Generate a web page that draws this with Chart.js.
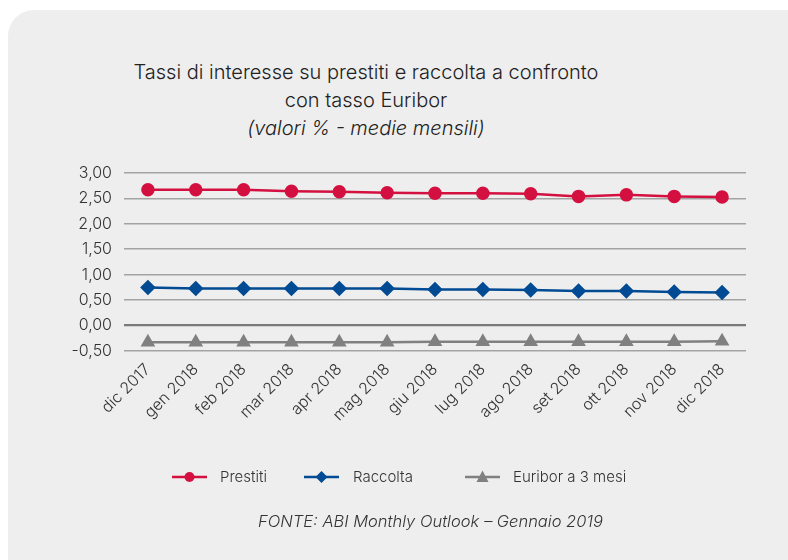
<!DOCTYPE html>
<html>
<head>
<meta charset="utf-8">
<script src="https://cdn.jsdelivr.net/npm/chart.js@4"></script>
<style>
  html, body { margin:0; padding:0; background:#ffffff; }
  body { width:788px; height:560px; position:relative; overflow:hidden; font-family: Inter, "Open Sans", sans-serif; color:#333; }
  #panel { position:absolute; left:8px; top:10px; width:820px; height:600px; border-radius:26px; background:#eeeeee; }
  #title { position:absolute; left:66px; width:600px; top:58px; text-align:center; font-size:20px; font-weight:300; line-height:28px; color:#222; }
  #title .sub { font-style:italic; }
  #wrap { position:absolute; left:0; top:0; width:788px; height:560px; }
  #legend { position:absolute; top:467px; left:0; width:788px; height:20px; font-size:15px; font-weight:300; color:#333; }
  .li { position:absolute; top:0; height:20px; line-height:20px; }
  .li svg { position:absolute; top:0; left:0; }
  .li span { position:absolute; white-space:nowrap; }
  #source { position:absolute; top:511px; left:258px; font-size:16.5px; font-weight:300; font-style:italic; color:#333; white-space:nowrap; }
</style>
</head>
<body>
<div id="panel"></div>
<div id="title">Tassi di interesse su prestiti e raccolta a confronto<br>con tasso Euribor<br><span class="sub">(valori % - medie mensili)</span></div>
<div id="wrap"><canvas id="c" width="788" height="560"></canvas></div>
<div id="legend"></div>
<div id="source">FONTE: ABI Monthly Outlook – Gennaio 2019</div>
<script>
const categories = ["dic 2017","gen 2018","feb 2018","mar 2018","apr 2018","mag 2018","giu 2018","lug 2018","ago 2018","set 2018","ott 2018","nov 2018","dic 2018"];
const prestiti = [2.67, 2.67, 2.67, 2.64, 2.63, 2.61, 2.60, 2.60, 2.59, 2.54, 2.57, 2.54, 2.53];
const raccolta = [0.75, 0.73, 0.73, 0.73, 0.73, 0.73, 0.71, 0.71, 0.70, 0.68, 0.68, 0.66, 0.65];
const euribor = [-0.33, -0.33, -0.33, -0.33, -0.33, -0.33, -0.32, -0.32, -0.32, -0.32, -0.32, -0.32, -0.31];
const yTicks = [-0.5, 0, 0.5, 1, 1.5, 2, 2.5, 3];
const seriesNames = ["Prestiti", "Raccolta", "Euribor a 3 mesi"];
const colors = ["#d3103f", "#004b93", "#808080"];
const markers = ["circle", "rectRot", "triangle"];

const fmt = v => v.toFixed(2).replace('.', ',');

const chart = new Chart(document.getElementById('c'), {
  type: 'line',
  data: {
    labels: categories,
    datasets: [prestiti, raccolta, euribor].map((d, i) => ({
      label: seriesNames[i],
      data: d,
      borderColor: colors[i],
      backgroundColor: colors[i],
      borderWidth: 2.5,
      pointStyle: markers[i],
      pointRadius: i === 0 ? 5.5 : 6,
      pointHoverRadius: 6,
      tension: 0,
      fill: false
    }))
  },
  options: {
    responsive: false,
    animation: false,
    layout: { padding: { left: 0, right: 42, top: 173, bottom: 0 } },
    plugins: { legend: { display: false }, title: { display: false }, tooltip: { enabled: false } },
    scales: {
      x: {
        offset: true,
        grid: { display: false, drawTicks: false },
        border: { display: false },
        ticks: { color: '#333', font: { family: 'Inter', size: 16, weight: 300 }, minRotation: 45, maxRotation: 45, padding: 9, autoSkip: false },
        afterFit: s => { s.height = 560 - 351; }
      },
      y: {
        min: -0.5, max: 3,
        afterBuildTicks: s => { s.ticks = yTicks.map(v => ({ value: v })); },
        grid: {
          drawTicks: false,
          color: c => (c.tick && c.tick.value === 0) ? '#7a7a7a' : '#a3a3a3',
          lineWidth: c => (c.tick && c.tick.value === 0) ? 2.2 : 1.6
        },
        border: { display: false },
        ticks: { color: '#333', font: { family: 'Inter', size: 16, weight: 300 }, padding: 12, callback: v => fmt(v) },
        afterFit: s => { s.width = 124; }
      }
    }
  }
});

// HTML legend
const legendPos = [{ l: 172, t: 220 }, { l: 304, t: 353 }, { l: 465, t: 513 }];
const lg = document.getElementById('legend');
seriesNames.forEach((n, i) => {
  const d = document.createElement('div');
  d.className = 'li';
  d.style.left = legendPos[i].l + 'px';
  d.style.width = '220px';
  let m = '';
  if (markers[i] === 'circle') m = `<circle cx="17.5" cy="10" r="5" fill="${colors[i]}"/>`;
  else if (markers[i] === 'rectRot') m = `<polygon points="17.5,4 23.5,10 17.5,16 11.5,10" fill="${colors[i]}"/>`;
  else m = `<polygon points="17.5,3.5 23.5,15 11.5,15" fill="${colors[i]}"/>`;
  d.innerHTML = `<svg width="36" height="20"><line x1="0" y1="10" x2="35" y2="10" stroke="${colors[i]}" stroke-width="2.5"/>${m}</svg><span style="left:${legendPos[i].t - legendPos[i].l}px">${n}</span>`;
  lg.appendChild(d);
});
</script>
</body>
</html>
